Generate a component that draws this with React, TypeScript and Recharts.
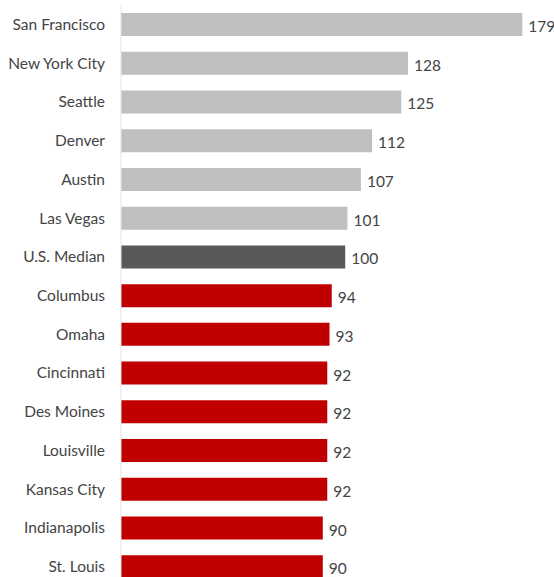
import { BarChart, Bar, XAxis, YAxis, Cell, LabelList } from 'recharts';

const cities = [
  'San Francisco',
  'New York City',
  'Seattle',
  'Denver',
  'Austin',
  'Las Vegas',
  'U.S. Median',
  'Columbus',
  'Omaha',
  'Cincinnati',
  'Des Moines',
  'Louisville',
  'Kansas City',
  'Indianapolis',
  'St. Louis',
];
const index = [179, 128, 125, 112, 107, 101, 100, 94, 93, 92, 92, 92, 92, 90, 90];

const MEDIAN = 'U.S. Median';
const FONT = 'Lato, "Open Sans", sans-serif';

const data = cities.map((city, i) => ({ city, value: index[i] }));

function barColor(city: string, value: number) {
  if (city === MEDIAN) return '#595959';
  return value > 100 ? '#bfbfbf' : '#c00000';
}

export default function App() {
  return (
    <div
      style={{
        position: 'fixed',
        top: 0,
        left: 0,
        width: 554,
        height: 577,
        overflow: 'hidden',
        background: '#fff',
      }}
    >
      <BarChart
        layout="vertical"
        width={554}
        height={586}
        data={data}
        margin={{ top: 5, right: 7, left: 0, bottom: 0 }}
        barSize={23}
      >
        <XAxis type="number" domain={[0, 190]} hide />
        <YAxis
          type="category"
          dataKey="city"
          width={121}
          axisLine={{ stroke: '#e3e3e3' }}
          tickLine={false}
          tickSize={0}
          tickMargin={16}
          tick={{ fill: '#444', fontSize: 15.5, fontFamily: FONT }}
          interval={0}
        />
        <Bar dataKey="value" isAnimationActive={false}>
          {data.map((d) => (
            <Cell key={d.city} fill={barColor(d.city, d.value)} />
          ))}
          <LabelList
            dataKey="value"
            position="right"
            offset={6}
            dy={2}
            style={{ fill: '#444', fontSize: 15.5, fontFamily: FONT }}
          />
        </Bar>
      </BarChart>
    </div>
  );
}
